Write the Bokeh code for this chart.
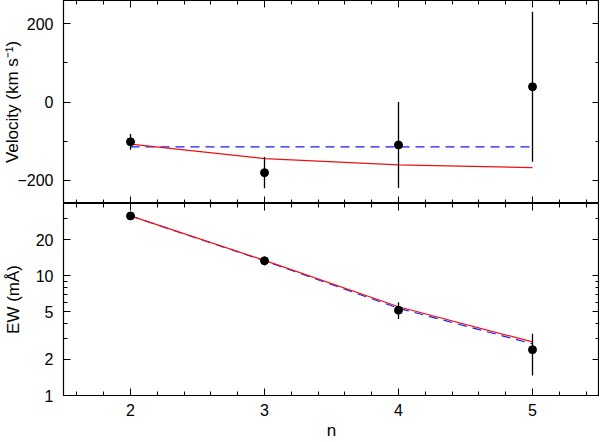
from bokeh.plotting import figure
from bokeh.layouts import column
from bokeh.models import (ColumnDataSource, LinearAxis, LogAxis, SingleIntervalTicker,
                          FixedTicker, CustomJSTickFormatter)
from bokeh.embed import file_html
from bokeh.resources import INLINE

# ---- data ----
n = [2, 3, 4, 5]
vel = [-102, -181, -110, 39]
vel_err = [20, 40, 110, 192]
vel_fit_const = [-115, -115, -115, -115]
vel_fit_model = [-108, -145, -161, -168]

ew = [31.5, 13.3, 5.15, 2.41]
ew_lo = [30.0, 12.2, 4.35, 1.47]
ew_hi = [33.0, 14.4, 6.0, 3.28]
ew_fit_model = [31.5, 13.4, 5.5, 2.8]
ew_fit_dash = [31.5, 13.3, 5.35, 2.7]

ew_major = [1, 2, 5, 10, 20]
ew_minor = [3, 4, 6, 7, 8, 9, 30]

FONT = "Liberation Sans"
TICK_FS = "16px"
LABEL_FS = "17px"

minus_fmt = CustomJSTickFormatter(code="return tick.toString().replace('-', '\u2212')")
plain_fmt = CustomJSTickFormatter(code="return tick.toString()")
blank_fmt = CustomJSTickFormatter(code="return ''")


def style_axis(ax, labels=True, blank_fs=None, standoff=8):
    ax.major_tick_in = 7
    ax.major_tick_out = 0
    ax.minor_tick_in = 4
    ax.minor_tick_out = 0
    ax.axis_line_color = None
    ax.major_tick_line_color = "black"
    ax.minor_tick_line_color = "black"
    ax.major_label_text_font = FONT
    ax.axis_label_text_font = FONT
    ax.axis_label_text_font_style = "normal"
    ax.axis_label_text_font_size = LABEL_FS
    ax.axis_label_text_color = "black"
    ax.major_label_text_color = "black"
    ax.major_label_text_font_size = TICK_FS
    if labels:
        ax.major_label_standoff = standoff
    else:
        ax.formatter = blank_fmt
        ax.major_label_standoff = 0
        if blank_fs:
            ax.major_label_text_font_size = blank_fs


def xticker():
    return SingleIntervalTicker(interval=1, num_minor_ticks=5)


W = 599
LEFT = 63

# ---------- top panel ----------
src_v = ColumnDataSource(dict(
    n=n, v=vel,
    lo=[v - e for v, e in zip(vel, vel_err)],
    hi=[v + e for v, e in zip(vel, vel_err)],
    c=vel_fit_const, m=vel_fit_model))

p1 = figure(width=W, height=203, x_range=(1.5, 5.5), y_range=(-260, 260),
            output_backend="svg", toolbar_location=None,
            min_border_left=LEFT, min_border_right=0, min_border_top=0, min_border_bottom=0)
p1.grid.visible = False
p1.outline_line_color = "black"
p1.outline_line_width = 1.2

p1.xaxis.ticker = xticker()
style_axis(p1.xaxis[0], labels=False)
p1.yaxis.ticker = SingleIntervalTicker(interval=200, num_minor_ticks=2)
style_axis(p1.yaxis[0], standoff=10)
p1.yaxis.formatter = minus_fmt
p1.yaxis.axis_label = "Velocity (km s\u207b\u00b9)"
p1.yaxis.axis_label_standoff = -8

ax_top = LinearAxis(ticker=xticker())
style_axis(ax_top, labels=False)
p1.add_layout(ax_top, "above")
ax_r1 = LinearAxis(ticker=SingleIntervalTicker(interval=200, num_minor_ticks=2))
style_axis(ax_r1, labels=False, blank_fs="1px")
p1.add_layout(ax_r1, "right")

p1.line("n", "c", source=src_v, line_color="#1a1aff", line_width=1.2, line_dash="9 6")
p1.line("n", "m", source=src_v, line_color="#ee1111", line_width=1.2)
p1.segment(x0="n", y0="lo", x1="n", y1="hi", source=src_v, line_color="black", line_width=1.3)
p1.scatter("n", "v", source=src_v, size=8, color="black")

# ---------- bottom panel ----------
src_e = ColumnDataSource(dict(n=n, e=ew, lo=ew_lo, hi=ew_hi, m=ew_fit_model, d=ew_fit_dash))

p2 = figure(width=W, height=239, x_range=p1.x_range, y_range=(1, 40),
            y_axis_type="log",
            output_backend="svg", toolbar_location=None,
            min_border_left=LEFT, min_border_right=0, min_border_top=0, min_border_bottom=0)
p2.grid.visible = False
p2.outline_line_color = "black"
p2.outline_line_width = 1.2

p2.xaxis.ticker = xticker()
style_axis(p2.xaxis[0])
p2.xaxis.formatter = plain_fmt
p2.xaxis.axis_label = "n"
p2.xaxis.axis_label_standoff = 2
p2.yaxis.ticker = FixedTicker(ticks=ew_major, minor_ticks=ew_minor)
style_axis(p2.yaxis[0], standoff=10)
p2.yaxis.formatter = plain_fmt
p2.yaxis.axis_label = "EW (m\u00c5)"
p2.yaxis.axis_label_standoff = 10

ax_top2 = LinearAxis(ticker=xticker())
style_axis(ax_top2, labels=False)
p2.add_layout(ax_top2, "above")
ax_r2 = LogAxis(ticker=FixedTicker(ticks=ew_major, minor_ticks=ew_minor))
style_axis(ax_r2, labels=False, blank_fs="1px")
p2.add_layout(ax_r2, "right")

p2.line("n", "d", source=src_e, line_color="#1a1aff", line_width=1.2, line_dash="9 6")
p2.line("n", "m", source=src_e, line_color="#ee1111", line_width=1.2)
p2.segment(x0="n", y0="lo", x1="n", y1="hi", source=src_e, line_color="black", line_width=1.3)
p2.scatter("n", "e", source=src_e, size=8, color="black")

layout = column(p1, p2, spacing=0)
open("out.html", "w").write(file_html(layout, INLINE))
